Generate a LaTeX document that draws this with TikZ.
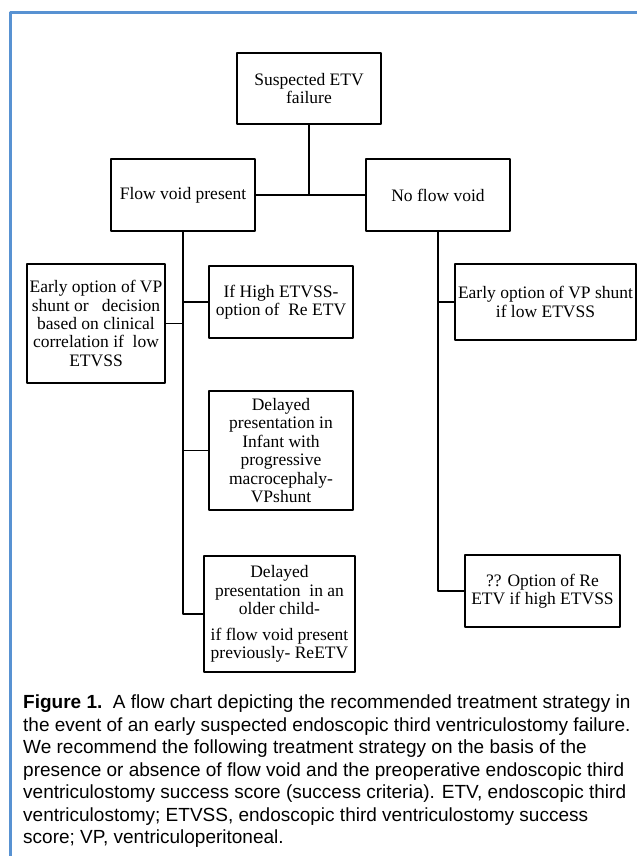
\documentclass[tikz,border=0pt]{standalone}
\usepackage{fontspec}
\setmainfont{Liberation Serif}
\newfontfamily\capfont{Liberation Sans}
\definecolor{frameblue}{RGB}{88,146,210}

\begin{document}
\begin{tikzpicture}[x=1pt, y=-1pt, line join = round,
    box/.style={draw, line width=1.4pt, inner sep=0pt, align=center,
        font=\fontsize{17.5}{18.4}\selectfont},
    link/.style={line width=1.4pt}]
    \useasboundingbox (0,0) rectangle (637,856);
    \draw[frameblue, line width=3pt] (10,856) -- (10,13) -- (637,13);

    % top level
    \node[box, minimum width=144, minimum height=71] (suspect) at (309,88.5) {Suspected ETV\\failure};
    \node[box, minimum width=144, minimum height=72] (flow) at (183,195) {Flow void present};
    \node[box, minimum width=144, minimum height=72] (noflow) at (438,195) {No flow void};

    % flow void branch
    \node[box, minimum width=138, minimum height=119] (early) at (96,323.5)
        {Early option of VP\\shunt or \ \ decision\\based on clinical\\correlation if \ low\\ETVSS};
    \node[box, minimum width=144, minimum height=72] (high) at (281,302) {If High ETVSS-\\option of \ Re ETV};
    \node[box, minimum width=144, minimum height=119] (infant) at (281,450.5)
        {Delayed\\presentation in\\Infant with\\progressive\\macrocephaly-\\VPshunt};
    \node[box, minimum width=151, minimum height=116] (older) at (279.5,614)
        {Delayed\\presentation \ in an\\older child-\\[7pt]if flow void present\\previously- ReETV};

    % no flow void branch
    \node[box, minimum width=181, minimum height=76] (shuntlow) at (545.5,302) {Early option of VP shunt\\if low ETVSS};
    \node[box, minimum width=155, minimum height=72] (reetv) at (542.5,591) {?? Option of Re\\ETV if high ETVSS};

    \draw[link] (flow.east) -- (noflow.west);
    \draw[link] (suspect.south) -- (suspect.south |- flow.east);

    \draw[link] (flow.south) |- (older.west);
    \draw[link] (early.east) -- (early.east -| flow.south);
    \draw[link] (high.west) -- (high.west -| flow.south);
    \draw[link] (infant.west) -- (infant.west -| flow.south);

    \draw[link] (noflow.south) |- (reetv.west);
    \draw[link] (shuntlow.west) -- (shuntlow.west -| noflow.south);

    % caption
    \node[anchor=north west, inner sep=0pt, align=left, font=\capfont\fontsize{19}{22.5}\selectfont] (caption) at (23,695)
        {\textbf{Figure 1.}\ \ A flow chart depicting the recommended treatment strategy in\\
        the event of an early suspected endoscopic third ventriculostomy failure.\\
        We recommend the following treatment strategy on the basis of the\\
        presence or absence of flow void and the preoperative endoscopic third\\
        ventriculostomy success score (success criteria). ETV, endoscopic third\\
        ventriculostomy; ETVSS, endoscopic third ventriculostomy success\\
        score; VP, ventriculoperitoneal.};
\end{tikzpicture}
\end{document}
